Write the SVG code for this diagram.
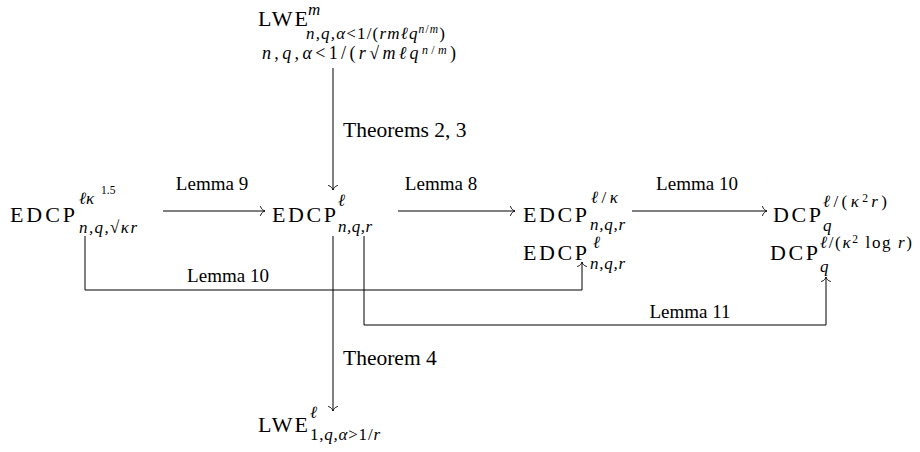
<svg xmlns="http://www.w3.org/2000/svg" width="920" height="452" viewBox="0 0 920 452">
<style>
text{font-family:"Liberation Serif","Times New Roman",serif;fill:#000}
.m{font-size:22px}
.s{font-size:17px;font-style:italic}
.ss{font-size:11.5px;font-style:italic}
.r{font-style:normal}
.lab{font-size:19px}
.big{font-size:21.5px}
.c{fill:none;stroke:#000;stroke-width:1}
</style>
<defs>
<marker id="to" viewBox="-6 -6 8 12" markerWidth="8" markerHeight="12" refX="0" refY="0" orient="auto" markerUnits="userSpaceOnUse">
<path d="M-4.5,-4.5 C-3.8,-1.8 -1.5,-0.4 0,0 C-1.5,0.4 -3.8,1.8 -4.5,4.5" fill="none" stroke="#000" stroke-width="0.9" stroke-linecap="round"/>
</marker>
</defs>
<g id="connectors">
<path class="c" d="M333,68 V190" marker-end="url(#to)"/>
<path class="c" d="M163,211 H265" marker-end="url(#to)"/>
<path class="c" d="M398,211 H515" marker-end="url(#to)"/>
<path class="c" d="M632,211 H767" marker-end="url(#to)"/>
<path class="c" d="M85,236 V290 H582 V262" marker-end="url(#to)"/>
<path class="c" d="M364,236 V325 H826 V277" marker-end="url(#to)"/>
<path class="c" d="M333,236 V411" marker-end="url(#to)"/>
<text class="big" x="343" y="137">Theorems 2, 3</text>
<text class="lab" x="212" y="190" text-anchor="middle">Lemma 9</text>
<text class="lab" x="441" y="190" text-anchor="middle">Lemma 8</text>
<text class="lab" x="697" y="190" text-anchor="middle">Lemma 10</text>
<text class="lab" x="228" y="282" text-anchor="middle">Lemma 10</text>
<text class="lab" x="690" y="318" text-anchor="middle">Lemma 11</text>
<text class="big" x="343" y="365">Theorem 4</text>
</g>
<g id="lwe-top">
<text class="m" x="258" y="26" textLength="50">LWE</text>
<text class="s" x="308" y="15">m</text>
<text class="s" x="306" y="39" textLength="139">n,q,α<tspan class="r">&lt;1/(</tspan>rmℓq<tspan class="ss" dy="-6">n<tspan class="r">/</tspan>m</tspan><tspan class="r" dy="6">)</tspan></text>
<text class="s" x="262" y="59" style="font-size:18px" textLength="194">n,q,α<tspan class="r">&lt;1/(</tspan>r<tspan class="r">√</tspan>mℓq<tspan class="ss" style="font-size:12px" dy="-5">n<tspan class="r">/</tspan>m</tspan><tspan class="r" dy="5">)</tspan></text>
</g>
<g id="edcp-left">
<text class="m" x="10" y="222" textLength="65">EDCP</text>
<text class="s" x="79" y="204">ℓκ</text>
<text class="ss r" x="101" y="194">1.5</text>
<text class="s" x="79" y="233" textLength="58">n,q,<tspan class="r">√</tspan>κr</text>
</g>
<g id="edcp-center">
<text class="m" x="272" y="222" textLength="64">EDCP</text>
<text class="s" x="338" y="206">ℓ</text>
<text class="s" x="338" y="232" textLength="34">n,q,r</text>
</g>
<g id="edcp-right">
<text class="m" x="523" y="222" textLength="64">EDCP</text>
<text class="s" x="591" y="203" textLength="27">ℓ<tspan class="r">/</tspan>κ</text>
<text class="s" x="590" y="230" textLength="35">n,q,r</text>
<text class="m" x="523" y="260" textLength="64">EDCP</text>
<text class="s" x="593" y="248">ℓ</text>
<text class="s" x="590" y="269" textLength="35">n,q,r</text>
</g>
<g id="dcp">
<text class="m" x="773" y="222" textLength="48">DCP</text>
<text class="s" x="823" y="207" textLength="64">ℓ<tspan class="r">/(</tspan>κ<tspan class="ss r" dy="-5">2</tspan><tspan dy="5">r</tspan><tspan class="r">)</tspan></text>
<text class="s" x="823" y="231">q</text>
<text class="m" x="770" y="260" textLength="48">DCP</text>
<text class="s" x="820" y="248" textLength="92">ℓ<tspan class="r">/(</tspan>κ<tspan class="ss r" dy="-5">2</tspan><tspan class="r" dy="5"> log </tspan>r<tspan class="r">)</tspan></text>
<text class="s" x="820" y="272">q</text>
</g>
<g id="lwe-bottom">
<text class="m" x="258" y="432" textLength="50">LWE</text>
<text class="s" x="310" y="418">ℓ</text>
<text class="s" x="310" y="440" textLength="70"><tspan class="r">1,</tspan>q,α<tspan class="r">&gt;1/</tspan>r</text>
</g>
</svg>
